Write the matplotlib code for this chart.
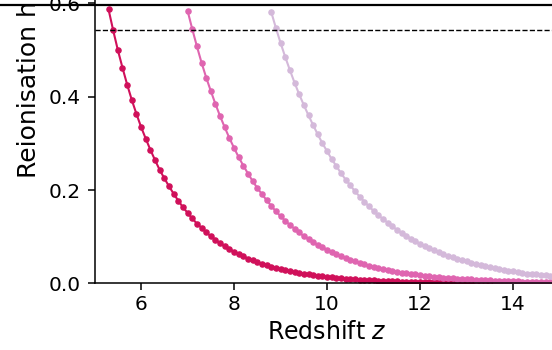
import numpy as np
import matplotlib
matplotlib.use("Agg")
import matplotlib.pyplot as plt
from matplotlib.lines import Line2D

# ionised fraction vs redshift, three models (step 0.1 in z)
z_step = 0.1

z1_start = 5.3
xhii_1 = [0.587, 0.542, 0.500, 0.462, 0.426, 0.393, 0.363, 0.335, 0.310, 0.286,
          0.264, 0.243, 0.225, 0.208, 0.192, 0.177, 0.163, 0.151, 0.139, 0.128,
          0.119, 0.109, 0.101, 0.093, 0.086, 0.079, 0.073, 0.068, 0.063, 0.058,
          0.053, 0.049, 0.045, 0.042, 0.039, 0.036, 0.033, 0.030, 0.028, 0.026,
          0.024, 0.022, 0.020, 0.019, 0.017, 0.016, 0.0148, 0.0137, 0.0126, 0.0116,
          0.0107, 0.0099, 0.0092, 0.0085, 0.0078, 0.0072, 0.0066, 0.0061, 0.0057, 0.0052,
          0.0048, 0.0044, 0.0041, 0.0038, 0.0035, 0.0032, 0.0030, 0.0027, 0.0025, 0.0023,
          0.0021, 0.0020, 0.0018, 0.0017, 0.0015, 0.0014, 0.0013, 0.0012, 0.0011, 0.0010,
          0.0009, 0.0009, 0.0008, 0.0007, 0.0007, 0.0006, 0.0006, 0.0005, 0.0005, 0.0005,
          0.0004, 0.0004, 0.0004, 0.0003, 0.0003, 0.0003, 0.0003, 0.0002]

z2_start = 7.0
xhii_2 = [0.584, 0.545, 0.508, 0.473, 0.441, 0.412, 0.384, 0.358, 0.334, 0.311,
          0.290, 0.270, 0.252, 0.235, 0.219, 0.204, 0.191, 0.178, 0.166, 0.154,
          0.144, 0.134, 0.125, 0.117, 0.109, 0.101, 0.095, 0.088, 0.082, 0.077,
          0.072, 0.067, 0.062, 0.058, 0.054, 0.050, 0.047, 0.044, 0.041, 0.038,
          0.036, 0.033, 0.031, 0.029, 0.027, 0.025, 0.023, 0.022, 0.020, 0.019,
          0.0176, 0.0164, 0.0153, 0.0143, 0.0133, 0.0124, 0.0116, 0.0108, 0.0101, 0.0094,
          0.0088, 0.0082, 0.0076, 0.0071, 0.0066, 0.0062, 0.0058, 0.0054, 0.0050, 0.0047,
          0.0044, 0.0041, 0.0038, 0.0035, 0.0033, 0.0031, 0.0029, 0.0027, 0.0025, 0.0023,
          0.0022]

z3_start = 8.8
xhii_3 = [0.581, 0.547, 0.515, 0.485, 0.457, 0.430, 0.405, 0.382, 0.360, 0.339,
          0.319, 0.300, 0.283, 0.266, 0.251, 0.236, 0.222, 0.210, 0.197, 0.186,
          0.175, 0.165, 0.155, 0.146, 0.138, 0.130, 0.122, 0.115, 0.108, 0.102,
          0.096, 0.090, 0.085, 0.080, 0.076, 0.071, 0.067, 0.063, 0.059, 0.056,
          0.053, 0.050, 0.047, 0.044, 0.041, 0.039, 0.037, 0.035, 0.033, 0.031,
          0.029, 0.027, 0.026, 0.024, 0.023, 0.021, 0.020, 0.019, 0.018, 0.017,
          0.016, 0.015, 0.014]

x_ref = 0.543
colors = ['#d0105a', '#df65b0', '#d4b9da']

fig = plt.figure(figsize=(5.52, 3.5), dpi=100)
# axes runs past the top/right of the canvas (the picture is a crop)
ax = fig.add_axes([94.6 / 552, 66.7 / 350, 465 / 552, 466.5 / 350])

for start, vals, c in zip([z1_start, z2_start, z3_start], [xhii_1, xhii_2, xhii_3], colors):
    z = start + z_step * np.arange(len(vals))
    ax.plot(z, vals, '-o', color=c, lw=1.5, ms=3.7)

ax.axhline(x_ref, color='k', ls='--', lw=1)

ax.set_xlim(5, 15)
ax.set_ylim(0, 1)
ax.set_xticks([6, 8, 10, 12, 14])
ax.set_yticks([0.0, 0.2, 0.4, 0.6, 0.8, 1.0])
ax.tick_params(labelsize=14.5, length=5, width=1.1)
ax.tick_params(axis='y', pad=5)
for s in ax.spines.values():
    s.set_linewidth(1.1)

ax.set_xlabel('Redshift $z$', fontsize=17)
ax.set_ylabel('Reionisation history', fontsize=18, ha='left')
ax.yaxis.set_label_coords(-0.116, 0.226)

# separator line across the top of the crop
fig.add_artist(Line2D([0, 1], [1 - 5.3 / 350] * 2, transform=fig.transFigure,
                      color='k', lw=1.6, zorder=10))

fig.savefig('out.png', dpi=100)
